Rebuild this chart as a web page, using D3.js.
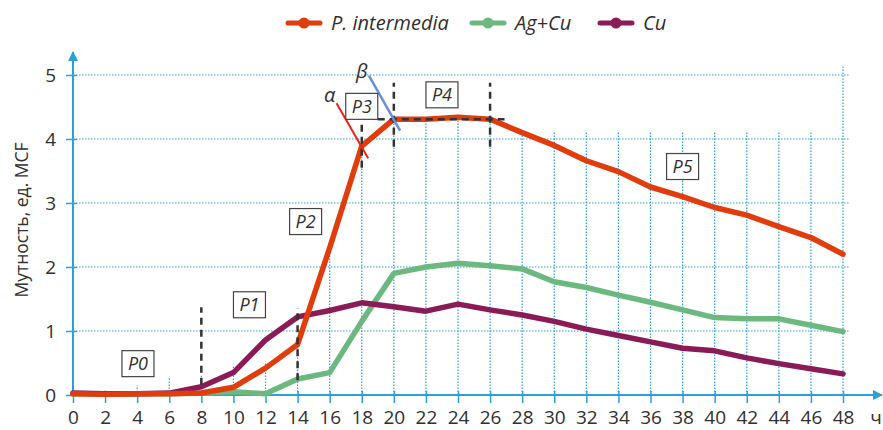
<!DOCTYPE html>
<html>
<head>
<meta charset="utf-8">
<script src="https://cdn.jsdelivr.net/npm/d3@7"></script>
<style>
  body { margin: 0; background: #fff; }
  text { font-family: "Open Sans", "Noto Sans", sans-serif; fill: #2f2f2f; }
</style>
</head>
<body>
<div id="vis"></div>
<script>
// data
var hours = [0, 2, 4, 6, 8, 10, 12, 14, 16, 18, 20, 22, 24, 26, 28, 30, 32, 34, 36, 38, 40, 42, 44, 46, 48];
var pIntermedia = [0.02, 0.01, 0.02, 0.02, 0.03, 0.12, 0.42, 0.79, 2.3, 3.89, 4.31, 4.31, 4.34, 4.31, 4.1, 3.9, 3.66, 3.49, 3.25, 3.1, 2.93, 2.81, 2.63, 2.46, 2.2];
var agCu = [0.02, 0.02, 0.02, 0.02, 0.03, 0.05, 0.02, 0.25, 0.35, 1.15, 1.9, 2.0, 2.06, 2.02, 1.97, 1.77, 1.68, 1.56, 1.45, 1.33, 1.21, 1.19, 1.19, 1.09, 0.99];
var cu = [0.03, 0.02, 0.02, 0.03, 0.13, 0.35, 0.86, 1.22, 1.32, 1.44, 1.38, 1.31, 1.42, 1.33, 1.25, 1.15, 1.03, 0.93, 0.83, 0.73, 0.69, 0.58, 0.49, 0.41, 0.33];
var seriesNames = ["P. intermedia", "Ag+Cu", "Cu"];
var yTicks = [0, 1, 2, 3, 4, 5];
// how high each vertical dotted grid line reaches (in MCF units)
var gridTop = [0, 0.07, 0.15, 0.27, 0.3, 0.44, 0.52, 0.8, 2.24, 3.9, 4.3, 4.3, 4.3, 4.3, 4.1, 4.1, 4.1, 4.1, 4.1, 4.1, 4.1, 4.1, 4.1, 4.1, 5.13];
// phase boxes
var phaseNames = ["P0", "P1", "P2", "P3", "P4", "P5"];
var phaseHour = [4.05, 11.0, 14.5, 18.0, 23.0, 38.0];
var phaseValue = [0.49, 1.41, 2.71, 4.51, 4.69, 3.57];

var colors = {"P. intermedia": "#e03c0c", "Ag+Cu": "#6cb97f", "Cu": "#8a1b56"};

// set the dimensions
var W = 883, H = 430;
var svg = d3.select("#vis").append("svg")
    .attr("width", W)
    .attr("height", H);

var x = d3.scaleLinear().domain([0, 48]).range([73, 843]);
var y = d3.scaleLinear().domain([0, 5]).range([395, 75]);

var gridColor = "#2a9fdc";

// horizontal grid lines
svg.append("g").selectAll("line")
  .data(yTicks.slice(1))
  .enter().append("line")
    .attr("x1", x(0))
    .attr("x2", x(48) + 7)
    .attr("y1", function(d) { return y(d); })
    .attr("y2", function(d) { return y(d); })
    .attr("stroke", gridColor)
    .attr("stroke-width", 1.2)
    .attr("stroke-dasharray", "1.5,1.5");

// vertical grid lines (drop lines)
svg.append("g").selectAll("line")
  .data(hours.map(function(h, i) { return {h: h, top: gridTop[i]}; }).filter(function(d) { return d.top > 0; }))
  .enter().append("line")
    .attr("x1", function(d) { return x(d.h); })
    .attr("x2", function(d) { return x(d.h); })
    .attr("y1", y(0))
    .attr("y2", function(d) { return y(d.top); })
    .attr("stroke", gridColor)
    .attr("stroke-width", 1.2)
    .attr("stroke-dasharray", "1.5,1.5");

// axes
var defs = svg.append("defs");
defs.append("marker")
    .attr("id", "arrow")
    .attr("viewBox", "0 0 10 10")
    .attr("refX", 9).attr("refY", 5)
    .attr("markerWidth", 5).attr("markerHeight", 5)
    .attr("orient", "auto")
  .append("path")
    .attr("d", "M0,0L10,5L0,10z")
    .attr("fill", gridColor);

var xAxis = svg.append("g")
    .attr("transform", "translate(0," + y(0) + ")")
    .call(d3.axisBottom(x).tickValues(hours).tickSize(8).tickPadding(8).tickFormat(d3.format("d")));
xAxis.select(".domain").remove();
xAxis.selectAll(".tick line").attr("y1", -4).attr("stroke", gridColor).attr("stroke-width", 1.5);
xAxis.selectAll("text").attr("font-size", "19px").attr("font-family", null).attr("fill", "#2f2f2f");

var yAxis = svg.append("g")
    .attr("transform", "translate(" + x(0) + ",0)")
    .call(d3.axisLeft(y).tickValues(yTicks).tickSize(7).tickPadding(10).tickFormat(d3.format("d")));
yAxis.select(".domain").remove();
yAxis.selectAll(".tick line").attr("x1", 4).attr("stroke", gridColor).attr("stroke-width", 1.5);
yAxis.selectAll("text").attr("font-size", "19px").attr("font-family", null).attr("fill", "#2f2f2f");

svg.append("line")
    .attr("x1", x(0)).attr("x2", 882)
    .attr("y1", y(0)).attr("y2", y(0))
    .attr("stroke", gridColor).attr("stroke-width", 2)
    .attr("marker-end", "url(#arrow)");
svg.append("line")
    .attr("x1", x(0)).attr("x2", x(0))
    .attr("y1", y(0)).attr("y2", 52)
    .attr("stroke", gridColor).attr("stroke-width", 2)
    .attr("marker-end", "url(#arrow)");

svg.append("text")
    .attr("x", 876).attr("y", 424)
    .attr("text-anchor", "middle")
    .attr("font-size", "19px")
    .text("ч");

svg.append("text")
    .attr("transform", "translate(28,220) rotate(-90)")
    .attr("text-anchor", "middle")
    .attr("font-size", "17.5px")
    .text("Мутность, ед. MCF");

// the lines
var line = d3.line()
    .x(function(d) { return x(d.h); })
    .y(function(d) { return y(d.v); });
var seriesValues = {"P. intermedia": pIntermedia, "Ag+Cu": agCu, "Cu": cu};
["Ag+Cu", "Cu", "P. intermedia"].forEach(function(name) {
  svg.append("path")
    .datum(hours.map(function(h, i) { return {h: h, v: seriesValues[name][i]}; }))
    .attr("fill", "none")
    .attr("stroke", colors[name])
    .attr("stroke-width", 5.5)
    .attr("stroke-linejoin", "round")
    .attr("stroke-linecap", "round")
    .attr("d", line);
});

// dashed phase borders
var dashes = [
  {x0: 8, x1: 8, y0: 0.16, y1: 1.37},
  {x0: 14, x1: 14, y0: 0.23, y1: 1.36},
  {x0: 18, x1: 18, y0: 3.55, y1: 4.3},
  {x0: 20, x1: 20, y0: 3.88, y1: 4.88},
  {x0: 26, x1: 26, y0: 3.88, y1: 4.88},
  {x0: 19, x1: 26.9, y0: 4.31, y1: 4.31}
];
svg.append("g").selectAll("line")
  .data(dashes)
  .enter().append("line")
    .attr("x1", function(d) { return x(d.x0); })
    .attr("x2", function(d) { return x(d.x1); })
    .attr("y1", function(d) { return y(d.y0); })
    .attr("y2", function(d) { return y(d.y1); })
    .attr("stroke", "#333")
    .attr("stroke-width", 2.5)
    .attr("stroke-dasharray", "7,5");

// tangent lines alpha and beta
svg.append("line")
    .attr("x1", x(16.43)).attr("y1", y(4.56))
    .attr("x2", x(18.4)).attr("y2", y(3.7))
    .attr("stroke", "#e8231a").attr("stroke-width", 2);
svg.append("line")
    .attr("x1", x(18.45)).attr("y1", y(4.99))
    .attr("x2", x(20.39)).attr("y2", y(4.13))
    .attr("stroke", "#6a8fd8").attr("stroke-width", 2.5);
svg.append("text")
    .attr("x", x(16.0)).attr("y", y(4.58))
    .attr("text-anchor", "middle")
    .attr("font-size", "20px").attr("font-style", "italic")
    .text("α");
svg.append("text")
    .attr("x", x(18.0)).attr("y", y(4.95))
    .attr("text-anchor", "middle")
    .attr("font-size", "20px").attr("font-style", "italic")
    .text("β");

// phase boxes
var boxes = svg.append("g").selectAll("g")
  .data(phaseNames.map(function(n, i) { return {name: n, h: phaseHour[i], v: phaseValue[i]}; }))
  .enter().append("g")
    .attr("transform", function(d) { return "translate(" + x(d.h) + "," + y(d.v) + ")"; });
boxes.append("rect")
    .attr("x", -16).attr("y", -13)
    .attr("width", 32).attr("height", 26)
    .attr("fill", "#fff")
    .attr("stroke", "#444")
    .attr("stroke-width", 1.2);
boxes.append("text")
    .attr("text-anchor", "middle")
    .attr("dy", "0.36em")
    .attr("font-size", "18px")
    .attr("font-style", "italic")
    .text(function(d) { return d.name; });

// legend
var legendX = [288, 472, 600];
var legend = svg.append("g").selectAll("g")
  .data(seriesNames)
  .enter().append("g")
    .attr("transform", function(d, i) { return "translate(" + legendX[i] + ",23)"; });
legend.append("line")
    .attr("x1", 0).attr("x2", 32)
    .attr("stroke", function(d) { return colors[d]; })
    .attr("stroke-width", 5)
    .attr("stroke-linecap", "round");
legend.append("circle")
    .attr("cx", 16).attr("r", 5.5)
    .attr("fill", function(d) { return colors[d]; });
legend.append("text")
    .attr("x", 43).attr("dy", "0.36em")
    .attr("font-size", "20px")
    .attr("font-style", "italic")
    .text(function(d) { return d; });
</script>
</body>
</html>
